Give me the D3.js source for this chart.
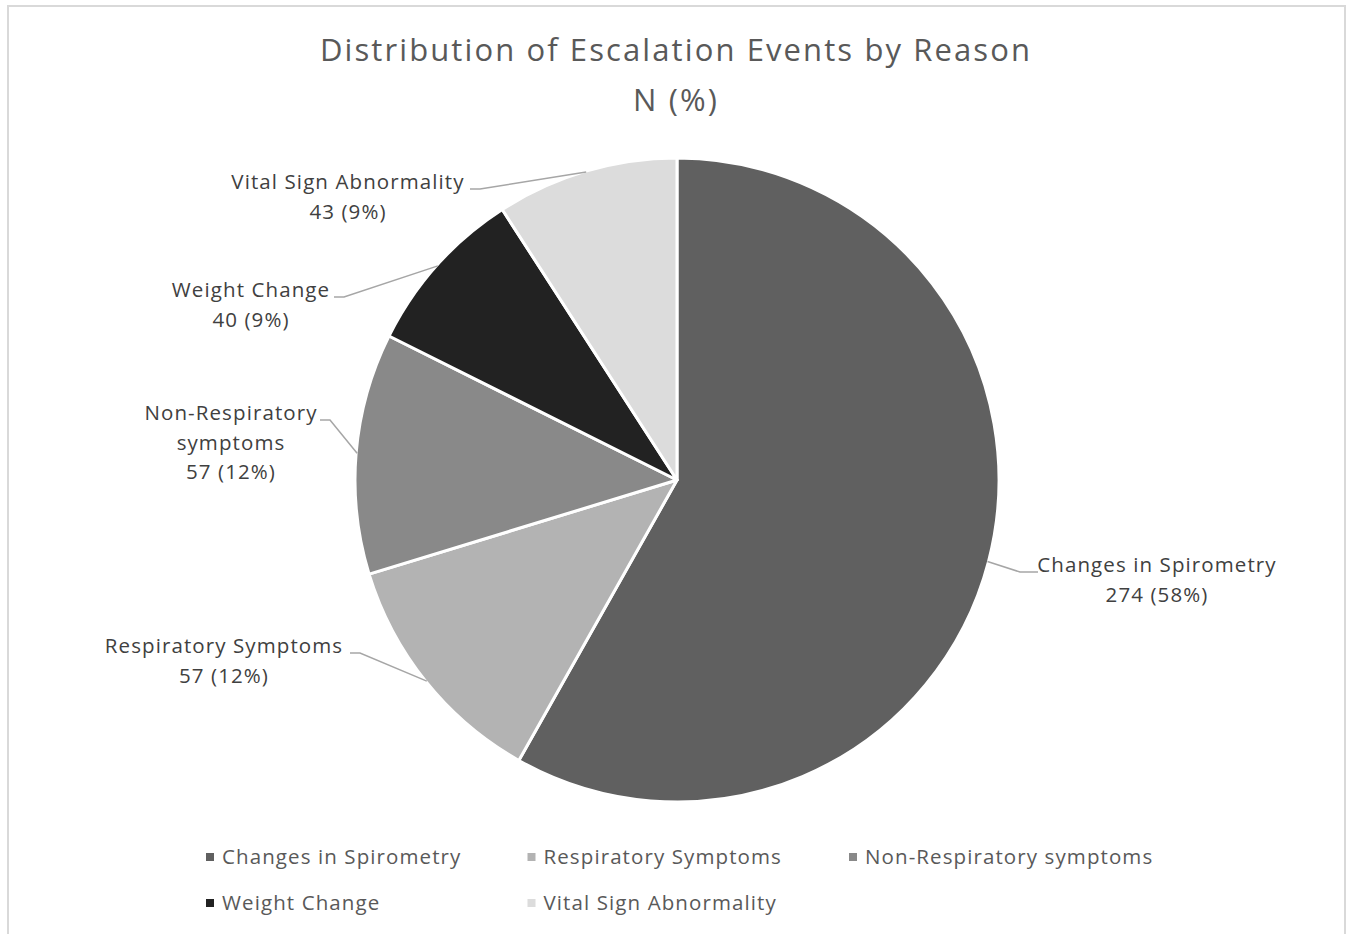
<!DOCTYPE html>
<html><head><meta charset="utf-8">
<script src="https://cdn.jsdelivr.net/npm/d3@7"></script>
<style>
html,body{margin:0;padding:0;background:#fff;}
svg{display:block;}
</style></head>
<body>
<svg id="chart" width="1351" height="934"></svg>
<script>
const categories = ["Changes in Spirometry","Respiratory Symptoms","Non-Respiratory symptoms","Weight Change","Vital Sign Abnormality"];
const counts = [274, 57, 57, 40, 43];
const percents = [58, 12, 12, 9, 9];
const colors = ["#606060","#b3b3b3","#898989","#222222","#dcdcdc"];
const labelLines = [["Changes in Spirometry"],["Respiratory Symptoms"],["Non-Respiratory","symptoms"],["Weight Change"],["Vital Sign Abnormality"]];
const titleLines = ["Distribution of Escalation Events by Reason","N (%)"];

// layout (label anchor centres and leader elbows), not data
const labelLayout = [
  {cx:1157, y:565, elbow:[1030,572], side:"left"},
  {cx:224, y:646, elbow:[350,653], side:"right"},
  {cx:231, y:413, elbow:[320,420], side:"right"},
  {cx:251, y:290, elbow:[334,297], side:"right"},
  {cx:348, y:182, elbow:[470,189], side:"right"}
];

const svg = d3.select("#chart");
const FONT = "'Open Sans', 'Noto Sans', sans-serif";

// frame
svg.append("rect").attr("x",8).attr("y",6).attr("width",1337).attr("height",940)
  .attr("fill","#fff").attr("stroke","#d9d9d9").attr("stroke-width",2);

// title
svg.append("g").selectAll("text").data(titleLines).join("text")
  .attr("x",676).attr("y",(d,i)=>61+i*50)
  .attr("text-anchor","middle").attr("font-family",FONT)
  .attr("font-size",31).attr("letter-spacing",2.1).attr("fill","#595959").text(d=>d);

const cx = 677, cy = 480, R = 322;
const data = categories.map((c,i)=>({name:c,value:counts[i],pct:percents[i],color:colors[i],i}));
const pie = d3.pie().value(d=>d.value).sort(null);
const arcs = pie(data);
const arc = d3.arc().innerRadius(0).outerRadius(R);

const g = svg.append("g").attr("transform",`translate(${cx},${cy})`);
g.selectAll("path").data(arcs).join("path")
  .attr("d",arc).attr("fill",d=>d.data.color)
  .attr("stroke","#fff").attr("stroke-width",3).attr("stroke-linejoin","round");

// leader lines
arcs.forEach((a,i)=>{
  const mid = (a.startAngle+a.endAngle)/2;
  const px = cx + Math.sin(mid)*(R-1), py = cy - Math.cos(mid)*(R-1);
  const L = labelLayout[i];
  const e = L.elbow;
  const e2 = L.side==="right" ? [e[0]+10,e[1]] : [e[0]-10,e[1]];
  const pts = L.side==="right" ? [e, e2, [px,py]] : [[px,py], e2, [e[0]+8,e[1]]];
  svg.append("path").attr("d",d3.line()(pts)).attr("fill","none")
    .attr("stroke","#a6a6a6").attr("stroke-width",1.5);
});

// data labels
arcs.forEach((a,i)=>{
  const L = labelLayout[i];
  const lines = labelLines[i].concat([`${a.data.value} (${a.data.pct}%)`]);
  svg.append("g").selectAll("text").data(lines).join("text")
    .attr("x",L.cx).attr("y",(d,k)=>L.y+7+k*29.5)
    .attr("text-anchor","middle").attr("font-family",FONT)
    .attr("font-size",20.5).attr("letter-spacing",1.1).attr("fill","#404040").text(d=>d);
});

// legend
const legX = d3.scalePoint().domain([0,1,2]).range([210,853]);
const legY = d3.scalePoint().domain([0,1]).range([857,903]);
const leg = svg.append("g");
data.forEach((d,i)=>{
  const col = i%3, row = Math.floor(i/3);
  const x = legX(col), y = legY(row);
  leg.append("rect").attr("x",x-4).attr("y",y-4).attr("width",8).attr("height",8).attr("fill",d.color);
  leg.append("text").attr("x",x+12).attr("y",y+7).attr("font-family",FONT)
    .attr("font-size",20.5).attr("letter-spacing",1.1).attr("fill","#595959").text(d.name);
});
</script>
</body></html>
